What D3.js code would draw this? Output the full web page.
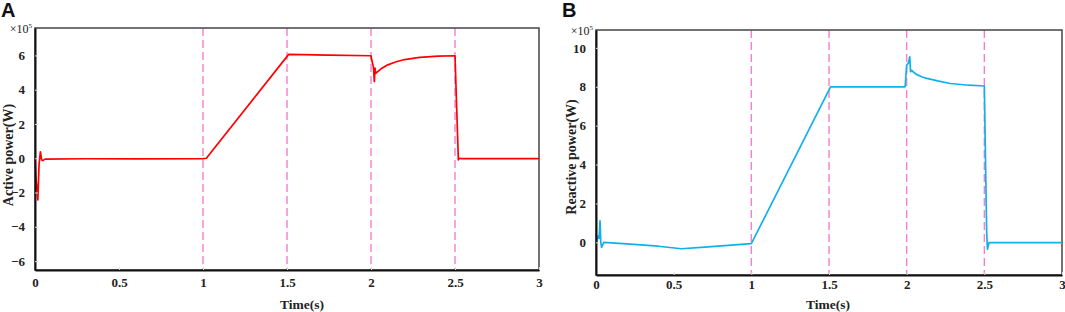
<!DOCTYPE html>
<html>
<head>
<meta charset="utf-8">
<script src="https://cdn.jsdelivr.net/npm/d3@7"></script>
<style>
  html, body { margin: 0; padding: 0; background: #fff; }
  svg { display: block; }
  .tick text { font-family: "Liberation Serif", "Times New Roman", serif; font-weight: bold; font-size: 13px; fill: #222; }
</style>
</head>
<body>
<svg id="chart" width="1065" height="312"></svg>
<script>
// ---- Data (values in units of 1e5 W) ----
const activeTime  = [0, 0.006, 0.017, 0.024, 0.032, 0.04, 0.046, 0.06, 0.3, 0.6, 1.0, 1.02, 1.51, 1.75, 2.0, 2.005, 2.015, 2.02, 2.024, 2.028, 2.04, 2.06, 2.1, 2.15, 2.2, 2.29, 2.4, 2.5, 2.52, 2.525, 2.54, 3.0];
const activePower = [0, -1.2, -2.43, -0.4, 0.38, -0.1, -0.14, -0.05, -0.03, -0.04, -0.02, 0.0, 6.06, 6.02, 5.98, 5.7, 5.3, 4.47, 5.26, 4.95, 5.05, 5.22, 5.45, 5.63, 5.76, 5.89, 5.96, 5.98, -0.1, 0.0, -0.02, -0.02];

const reactiveTime  = [0, 0.012, 0.02, 0.026, 0.031, 0.036, 0.05, 0.2, 0.4, 0.55, 0.7, 0.85, 1.0, 1.51, 1.8, 1.99, 2.0, 2.01, 2.02, 2.025, 2.03, 2.06, 2.1, 2.13, 2.2, 2.28, 2.4, 2.5, 2.515, 2.52, 2.53, 3.0];
const reactivePower = [-0.14, 0.32, 0.2, 1.11, 0.0, -0.26, 0.0, -0.08, -0.2, -0.33, -0.25, -0.16, -0.07, 8.0, 8.0, 8.0, 9.12, 9.2, 9.54, 8.77, 8.85, 8.65, 8.5, 8.43, 8.3, 8.17, 8.08, 8.04, 0.5, -0.36, -0.02, -0.02];

const xTicks = [0, 0.5, 1, 1.5, 2, 2.5, 3];
const xTickLabels = ["0", "0.5", "1", "1.5", "2", "2.5", "3"];
const activeTicks = [-6, -4, -2, 0, 2, 4, 6];
const reactiveTicks = [0, 2, 4, 6, 8, 10];
const eventTimes = [1, 1.5, 2, 2.5];

const svg = d3.select("#chart");
const serif = '"Liberation Serif", "Times New Roman", serif';

function panel(opt) {
  const x = d3.scaleLinear().domain([0, 3]).range([opt.left, opt.right]);
  const y = d3.scaleLinear().domain(opt.yDomain).range([opt.bottom, opt.top]);
  const g = svg.append("g");

  // dashed event lines
  g.selectAll("line.ev").data(eventTimes).enter().append("line")
    .attr("x1", d => x(d)).attr("x2", d => x(d))
    .attr("y1", opt.top).attr("y2", opt.bottom)
    .attr("stroke", "#f77fcf").attr("stroke-width", 1.4)
    .attr("stroke-dasharray", "8,4");

  // frame top/right
  g.append("rect").attr("x", opt.left).attr("y", opt.top)
    .attr("width", opt.right - opt.left).attr("height", opt.bottom - opt.top)
    .attr("fill", "none").attr("stroke", "#444").attr("stroke-width", 1.5);

  // data line
  const line = d3.line().x((d, i) => x(opt.t[i])).y(d => y(d));
  g.append("path").datum(opt.v).attr("d", line)
    .attr("fill", "none").attr("stroke", opt.color).attr("stroke-width", 1.7)
    .attr("stroke-linejoin", "round");

  // axes
  const xAxis = d3.axisBottom(x).tickValues(xTicks).tickFormat((d, i) => xTickLabels[i])
    .tickSizeInner(-3).tickSizeOuter(0).tickPadding(opt.xPad);
  const gx = g.append("g").attr("transform", `translate(0,${opt.bottom})`).call(xAxis);
  gx.select(".domain").attr("stroke", "#111").attr("stroke-width", 2);
  gx.selectAll(".tick line").attr("stroke", "#ddd");

  const yAxis = d3.axisLeft(y).tickValues(opt.yTicks).tickFormat(d3.format("d"))
    .tickSizeInner(-3).tickSizeOuter(0).tickPadding(10);
  const gy = g.append("g").attr("transform", `translate(${opt.left},0)`).call(yAxis);
  gy.select(".domain").attr("stroke", "#111").attr("stroke-width", 2);
  gy.selectAll(".tick line").attr("stroke", "#ddd");

  // multiplier
  const m = g.append("text").attr("x", opt.left - 3).attr("y", opt.top + 5)
    .attr("text-anchor", "end").attr("font-family", serif).attr("font-size", 12).attr("fill", "#222");
  m.append("tspan").text("×10");
  m.append("tspan").attr("dy", -5).attr("font-size", 7).text("5");

  // axis labels
  g.append("text").attr("x", opt.xLabelX).attr("y", opt.xLabelY)
    .attr("text-anchor", "middle").attr("font-family", serif).attr("font-weight", "bold")
    .attr("font-size", 13.5).attr("fill", "#222").text("Time(s)");
  g.append("text").attr("transform", `translate(${opt.yLabelX},${opt.yLabelY}) rotate(-90)`)
    .attr("text-anchor", "middle").attr("font-family", serif).attr("font-weight", "bold")
    .attr("font-size", 14).attr("fill", "#222").text(opt.yLabel);

  // panel letter
  g.append("text").attr("x", opt.letterX).attr("y", 17)
    .attr("font-family", '"Liberation Sans", Arial, sans-serif').attr("font-weight", "bold")
    .attr("font-size", 20).attr("fill", "#111").text(opt.letter);
}

panel({
  left: 35, right: 539, top: 28, bottom: 270,
  yDomain: [-6.52, 7.6], yTicks: activeTicks, xPad: 8,
  t: activeTime, v: activePower, color: "#ff0000",
  yLabel: "Active power(W)", yLabelX: 13, yLabelY: 155, xLabelX: 302, xLabelY: 309,
  letter: "A", letterX: 1
});

panel({
  left: 596, right: 1062, top: 30, bottom: 275,
  yDomain: [-1.68, 10.92], yTicks: reactiveTicks, xPad: 5,
  t: reactiveTime, v: reactivePower, color: "#12b0ea",
  yLabel: "Reactive power(W)", yLabelX: 576, yLabelY: 157, xLabelX: 828, xLabelY: 309,
  letter: "B", letterX: 562
});
</script>
</body>
</html>
